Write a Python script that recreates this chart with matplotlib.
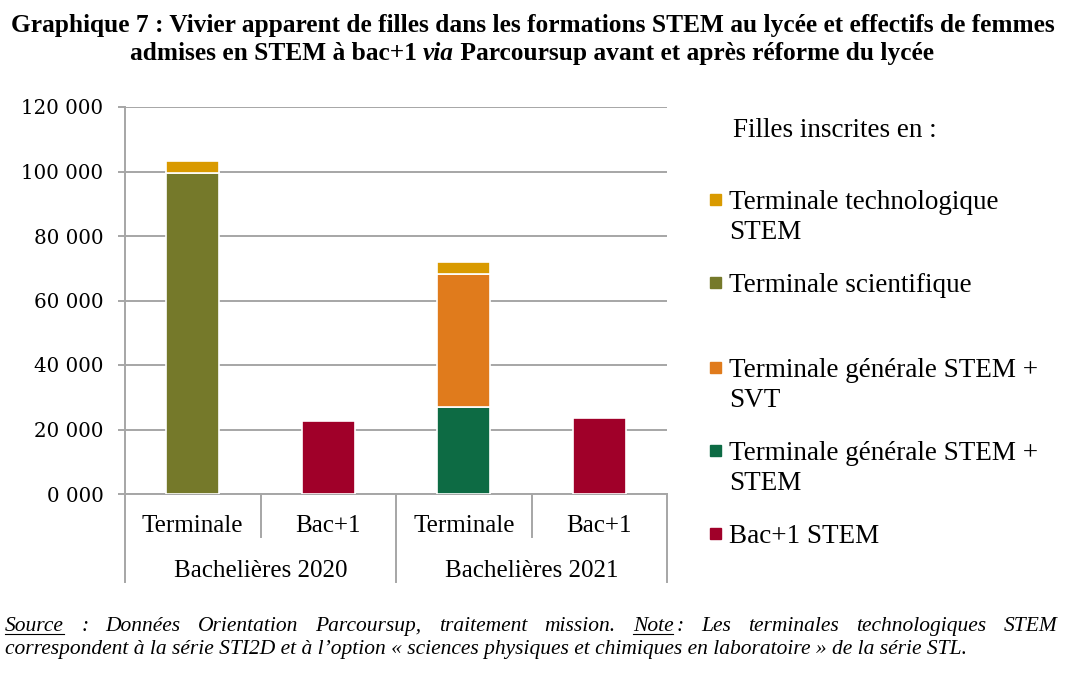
import numpy as np
import matplotlib
matplotlib.use("Agg")
import matplotlib.pyplot as plt
import matplotlib.transforms as mtransforms
from matplotlib.patches import Rectangle
from matplotlib.lines import Line2D
from matplotlib.ticker import FuncFormatter

# ---- data ----
categories = ["Terminale", "Bac+1", "Terminale", "Bac+1"]
groups = ["Bachelières 2020", "Bachelières 2021"]
sci = [99500, 0, 0, 0]            # Terminale scientifique
stem_stem = [0, 0, 27100, 0]      # Terminale générale STEM + STEM
stem_svt = [0, 0, 41100, 0]       # Terminale générale STEM + SVT
techno = [3800, 0, 3700, 0]       # Terminale technologique STEM
bac1_stem = [0, 22600, 0, 23600]  # Bac+1 STEM

legend_labels = ["Terminale technologique\nSTEM", "Terminale scientifique",
                 "Terminale générale STEM +\nSVT", "Terminale générale STEM +\nSTEM",
                 "Bac+1 STEM"]
legend_colors = ["#D99A00", "#75792A", "#E07B1C", "#0D6B44", "#A00029"]

title_line1 = "Graphique 7 : Vivier apparent de filles dans les formations STEM au lycée et effectifs de femmes"
title_line2 = ["admises en STEM à bac+1 ", "via", " Parcoursup avant et après réforme du lycée"]
note_line1 = ["Source", ":", "Données", "Orientation", "Parcoursup,", "traitement", "mission.",
              "Note", ":", "Les", "terminales", "technologiques", "STEM"]
note_line2 = "correspondent à la série STI2D et à l’option « sciences physiques et chimiques en laboratoire » de la série STL."

# ---- layout ----
W, H = 1084, 675
GRAY = "#A6A6A6"
SERIF = "Liberation Serif"


def fx(px):
    return px / W


def fy(py):
    return 1 - py / H


fig = plt.figure(figsize=(W / 100, H / 100), dpi=100)
ax = fig.add_axes([fx(125), fy(494), (667 - 125) / W, (494 - 107) / H])

x = np.arange(len(categories))
stack = [(sci, "#75792A"), (stem_stem, "#0D6B44"), (stem_svt, "#E07B1C"),
         (techno, "#D99A00"), (bac1_stem, "#A00029")]
bottom = np.zeros(len(categories))
for vals, col in stack:
    vals = np.array(vals, dtype=float)
    keep = vals > 0
    ax.bar(x[keep], vals[keep], width=0.39, bottom=bottom[keep], color=col,
           edgecolor="white", linewidth=1.2, zorder=3)
    bottom += vals

ax.set_xlim(-0.5, 3.5)
ax.set_ylim(0, 120000)
ax.set_yticks(np.arange(0, 120001, 20000))
ax.yaxis.set_major_formatter(FuncFormatter(lambda v, p: f"{int(v // 1000)} 000"))
ax.yaxis.grid(True, color=GRAY, linewidth=1.4)
ax.set_axisbelow(True)
ax.set_xticks([])
for s in ["top", "right"]:
    ax.spines[s].set_visible(False)
for s in ["left", "bottom"]:
    ax.spines[s].set_color(GRAY)
    ax.spines[s].set_linewidth(1.4)
ax.tick_params(axis="y", length=5, width=1.4, color=GRAY, pad=10.5, labelsize=14.3)
for lab in ax.get_yticklabels():
    lab.set_fontfamily("DejaVu Serif")

# category axis (two levels)
trans = mtransforms.blended_transform_factory(ax.transData, fig.transFigure)
for i, cat in enumerate(categories):
    ax.text(i, fy(532), cat, transform=trans, ha="center", va="baseline",
            fontsize=18, family=SERIF)
for j, grp in enumerate(groups):
    ax.text(2 * j + 0.5, fy(577), grp, transform=trans, ha="center", va="baseline",
            fontsize=18, family=SERIF)
for xs in [0.5, 2.5]:
    ax.add_line(Line2D([xs, xs], [fy(494), fy(537)], transform=trans, color=GRAY,
                       linewidth=1.4, clip_on=False))
for xs in [-0.5, 1.5, 3.5]:
    ax.add_line(Line2D([xs, xs], [fy(494), fy(582)], transform=trans, color=GRAY,
                       linewidth=1.4, clip_on=False))

# legend (drawn by hand to follow the original spacing)
fig.text(fx(733), fy(137), "Filles inscrites en :", fontsize=19.5, family=SERIF, va="baseline")
leg_baselines = [209, 292, 377, 460, 543]
for lab, col, yb in zip(legend_labels, legend_colors, leg_baselines):
    fig.patches.append(Rectangle((fx(710), fy(yb - 4)), 11 / W, 11 / H, color=col,
                                 transform=fig.transFigure))
    for k, line in enumerate(lab.split("\n")):
        fig.text(fx(729), fy(yb + 30 * k), line, fontsize=19.5, family=SERIF, va="baseline")

# title
fig.text(0.5 * (10 + 1055) / W, fy(32), title_line1, ha="center", va="baseline",
         fontsize=18.3, fontweight="bold", family=SERIF)
fig.canvas.draw()
renderer = fig.canvas.get_renderer()

pieces = []
for k, txt in enumerate(title_line2):
    t = fig.text(0, fy(60), txt, va="baseline", fontsize=18.3, fontweight="bold",
                 family=SERIF, style="italic" if k == 1 else "normal")
    pieces.append(t)
widths = [p.get_window_extent(renderer).width for p in pieces]
xpos = 532 - sum(widths) / 2
for p, w in zip(pieces, widths):
    p.set_x(fx(xpos))
    xpos += w

# footnote, first line justified between 5 and 1057 px
# the colon after "Note" sits close to it, the other gaps stretch
words = []
for wd in note_line1:
    t = fig.text(0, fy(631), wd, va="baseline", fontsize=15.5, family=SERIF, style="italic")
    words.append(t)
wws = [t.get_window_extent(renderer).width for t in words]
tight = [i > 0 and note_line1[i - 1] == "Note" for i in range(len(note_line1))]
small_gap = 3
n_flex = len(words) - 1 - sum(tight)
gap = (1057 - 5 - sum(wws) - small_gap * sum(tight)) / n_flex
xpos = 5
for i, (t, w, wd) in enumerate(zip(words, wws, note_line1)):
    if i > 0:
        xpos += small_gap if tight[i] else gap
    t.set_x(fx(xpos))
    if wd in ("Source", "Note"):
        fig.add_artist(Line2D([fx(xpos), fx(xpos + w)], [fy(634), fy(634)],
                              color="black", linewidth=0.8, transform=fig.transFigure))
    xpos += w
fig.text(fx(5), fy(654), note_line2, va="baseline", fontsize=15.5, family=SERIF, style="italic")

fig.savefig("out.png", dpi=100)
